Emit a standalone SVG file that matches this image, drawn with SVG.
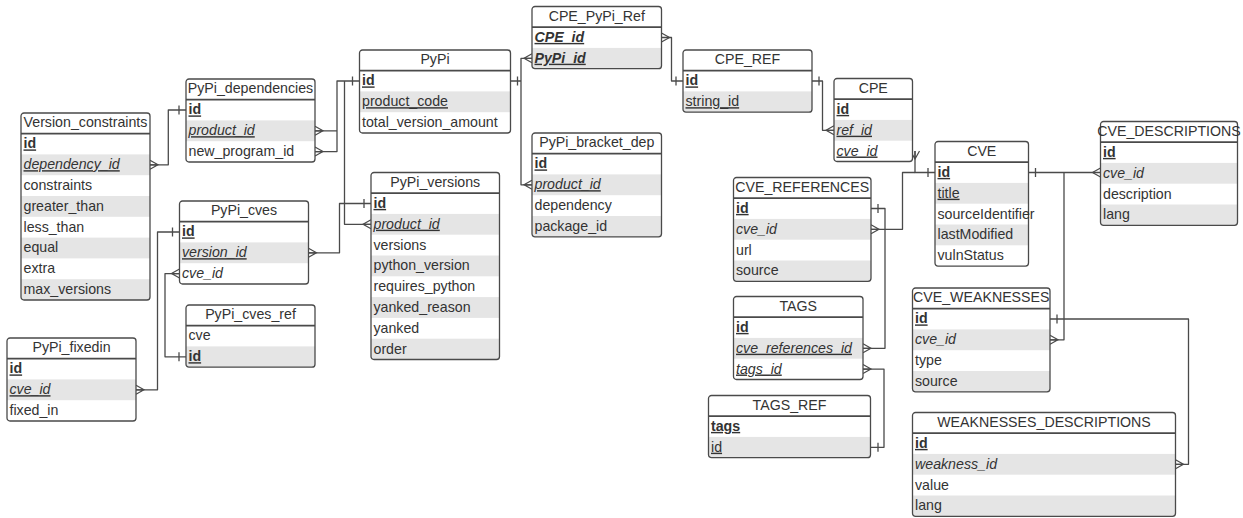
<svg xmlns="http://www.w3.org/2000/svg" xmlns:xlink="http://www.w3.org/1999/xlink" width="1243" height="518" viewBox="0 0 1243 518">
<style>
.bg{fill:#ffffff}
.alt{fill:#e5e5e5}
.frame{fill:none;stroke:#4a4a4a;stroke-width:1.3}
.hd{stroke:#4a4a4a;stroke-width:1.6}
text{font-family:"Liberation Sans",Arial,sans-serif;font-size:14.2px;fill:#333333}
.t{text-anchor:middle}
.b{font-weight:bold;text-decoration:underline}
.i{font-style:italic;text-decoration:underline}
.it{font-style:italic}
.u{text-decoration:underline}
.bi{font-weight:bold;font-style:italic;text-decoration:underline}
.c{fill:none;stroke:#4a4a4a;stroke-width:1.3;stroke-linejoin:round}
</style>
<defs>
<path id="crow" d="M0,-4.5 L8,0 L0,4.5 M0,0 H8" fill="none" stroke="#4a4a4a" stroke-width="1.2"/>
<path id="one" d="M7,-4.5 V4.5" fill="none" stroke="#4a4a4a" stroke-width="1.3"/>
</defs>

<g id="connectors">
<path class="c" d="M150,164.8 H168.3 V110 H186"/>
<use href="#crow" transform="translate(150,164.8)"/>
<use href="#one" transform="translate(186,110) scale(-1,1)"/>

<path class="c" d="M315,130.8 H337 V81 H359.5 M315,151.6 H337 V130.8"/>
<use href="#crow" transform="translate(315,130.8)"/>
<use href="#crow" transform="translate(315,151.6)"/>
<use href="#one" transform="translate(359.5,81) scale(-1,1)"/>

<path class="c" d="M371,224.3 H344.5 V81"/>
<use href="#crow" transform="translate(371,224.3) scale(-1,1)"/>

<path class="c" d="M308.5,252.8 H339.5 V203.5 H371"/>
<use href="#crow" transform="translate(308.5,252.8)"/>
<use href="#one" transform="translate(371,203.5) scale(-1,1)"/>

<path class="c" d="M136,389.8 H157.5 V232 H179.5"/>
<use href="#crow" transform="translate(136,389.8)"/>
<use href="#one" transform="translate(179.5,232) scale(-1,1)"/>

<path class="c" d="M179.5,273.6 H165 V356.8 H186"/>
<use href="#crow" transform="translate(179.5,273.6) scale(-1,1)"/>
<use href="#one" transform="translate(186,356.8) scale(-1,1)"/>

<path class="c" d="M510.5,81 H521 M532,58.3 H521 V184.8 H532"/>
<use href="#one" transform="translate(510.5,81)"/>
<use href="#crow" transform="translate(532,58.3) scale(-1,1)"/>
<use href="#crow" transform="translate(532,184.8) scale(-1,1)"/>

<path class="c" d="M661.5,37.5 H671.5 V81 H683"/>
<use href="#crow" transform="translate(661.5,37.5)"/>
<use href="#one" transform="translate(683,81) scale(-1,1)"/>

<path class="c" d="M812,81 H822.5 V130.3 H834"/>
<use href="#one" transform="translate(812,81)"/>
<use href="#crow" transform="translate(834,130.3) scale(-1,1)"/>

<path class="c" d="M915,151 V172.5 H935"/>
<use href="#crow" transform="translate(915,151) rotate(90)"/>
<use href="#one" transform="translate(935,172.5) scale(-1,1)"/>

<path class="c" d="M871,229.3 H902.5 V172.5 H915"/>
<use href="#crow" transform="translate(871,229.3)"/>

<path class="c" d="M871,208.5 H885 V348.3 H863"/>
<use href="#one" transform="translate(871,208.5)"/>
<use href="#crow" transform="translate(863,348.3)"/>

<path class="c" d="M863,369.1 H884 V447.3 H871"/>
<use href="#crow" transform="translate(863,369.1)"/>
<use href="#one" transform="translate(871,447.3)"/>

<path class="c" d="M1028.5,172.5 H1064 V339.8 H1050 M1064,172.5 H1100.5"/>
<use href="#one" transform="translate(1028.5,172.5)"/>
<use href="#crow" transform="translate(1100.5,172.5) scale(-1,1)"/>
<use href="#crow" transform="translate(1050,339.8)"/>

<path class="c" d="M1050,319 H1188.5 V464.3 H1175.5"/>
<use href="#one" transform="translate(1050,319)"/>
<use href="#crow" transform="translate(1175.5,464.3)"/>
</g>

<g id="Version_constraints" transform="translate(21,113)">
<rect class="bg" width="129" height="187"/>
<rect class="alt" y="41.4" width="129" height="20.8"/>
<rect class="alt" y="83" width="129" height="20.8"/>
<rect class="alt" y="124.6" width="129" height="20.8"/>
<rect class="alt" y="166.2" width="129" height="20.8"/>
<rect class="frame" width="129" height="187" rx="3"/>
<line class="hd" x1="0" y1="20.6" x2="129" y2="20.6"/>
<text class="t" x="64.5" y="14.3">Version_constraints</text>
<text class="b" x="2.5" y="35.4">id</text>
<text class="i" x="2.5" y="56.2">dependency_id</text>
<text x="2.5" y="77">constraints</text>
<text x="2.5" y="97.8">greater_than</text>
<text x="2.5" y="118.6">less_than</text>
<text x="2.5" y="139.4">equal</text>
<text x="2.5" y="160.2">extra</text>
<text x="2.5" y="181">max_versions</text>
</g>

<g id="PyPi_dependencies" transform="translate(186,79)">
<rect class="bg" width="129" height="83"/>
<rect class="alt" y="41.4" width="129" height="20.8"/>
<rect class="frame" width="129" height="83" rx="3"/>
<line class="hd" x1="0" y1="20.6" x2="129" y2="20.6"/>
<text class="t" x="64.5" y="14.3">PyPi_dependencies</text>
<text class="b" x="2.5" y="35.4">id</text>
<text class="i" x="2.5" y="56.2">product_id</text>
<text x="2.5" y="77">new_program_id</text>
</g>

<g id="PyPi_cves" transform="translate(179.5,201)">
<rect class="bg" width="129" height="83"/>
<rect class="alt" y="41.4" width="129" height="20.8"/>
<rect class="frame" width="129" height="83" rx="3"/>
<line class="hd" x1="0" y1="20.6" x2="129" y2="20.6"/>
<text class="t" x="64.5" y="14.3">PyPi_cves</text>
<text class="b" x="2.5" y="35.4">id</text>
<text class="i" x="2.5" y="56.2">version_id</text>
<text class="it" x="2.5" y="77">cve_id</text>
</g>

<g id="PyPi_cves_ref" transform="translate(186,305)">
<rect class="bg" width="129" height="62.2"/>
<rect class="alt" y="41.4" width="129" height="20.8"/>
<rect class="frame" width="129" height="62.2" rx="3"/>
<line class="hd" x1="0" y1="20.6" x2="129" y2="20.6"/>
<text class="t" x="64.5" y="14.3">PyPi_cves_ref</text>
<text x="2.5" y="35.4">cve</text>
<text class="b" x="2.5" y="56.2">id</text>
</g>

<g id="PyPi_fixedin" transform="translate(7,338)">
<rect class="bg" width="129" height="83"/>
<rect class="alt" y="41.4" width="129" height="20.8"/>
<rect class="frame" width="129" height="83" rx="3"/>
<line class="hd" x1="0" y1="20.6" x2="129" y2="20.6"/>
<text class="t" x="64.5" y="14.3">PyPi_fixedin</text>
<text class="b" x="2.5" y="35.4">id</text>
<text class="i" x="2.5" y="56.2">cve_id</text>
<text x="2.5" y="77">fixed_in</text>
</g>

<g id="PyPi" transform="translate(359.5,50)">
<rect class="bg" width="151" height="83"/>
<rect class="alt" y="41.4" width="151" height="20.8"/>
<rect class="frame" width="151" height="83" rx="3"/>
<line class="hd" x1="0" y1="20.6" x2="151" y2="20.6"/>
<text class="t" x="75.5" y="14.3">PyPi</text>
<text class="b" x="2.5" y="35.4">id</text>
<text class="u" x="2.5" y="56.2">product_code</text>
<text x="2.5" y="77">total_version_amount</text>
</g>

<g id="PyPi_versions" transform="translate(371,172.5)">
<rect class="bg" width="128.5" height="187"/>
<rect class="alt" y="41.4" width="128.5" height="20.8"/>
<rect class="alt" y="83" width="128.5" height="20.8"/>
<rect class="alt" y="124.6" width="128.5" height="20.8"/>
<rect class="alt" y="166.2" width="128.5" height="20.8"/>
<rect class="frame" width="128.5" height="187" rx="3"/>
<line class="hd" x1="0" y1="20.6" x2="128.5" y2="20.6"/>
<text class="t" x="64.25" y="14.3">PyPi_versions</text>
<text class="b" x="2.5" y="35.4">id</text>
<text class="i" x="2.5" y="56.2">product_id</text>
<text x="2.5" y="77">versions</text>
<text x="2.5" y="97.8">python_version</text>
<text x="2.5" y="118.6">requires_python</text>
<text x="2.5" y="139.4">yanked_reason</text>
<text x="2.5" y="160.2">yanked</text>
<text x="2.5" y="181">order</text>
</g>

<g id="CPE_PyPi_Ref" transform="translate(532,6.5)">
<rect class="bg" width="129.5" height="62.2"/>
<rect class="alt" y="41.4" width="129.5" height="20.8"/>
<rect class="frame" width="129.5" height="62.2" rx="3"/>
<line class="hd" x1="0" y1="20.6" x2="129.5" y2="20.6"/>
<text class="t" x="64.75" y="14.3">CPE_PyPi_Ref</text>
<text class="bi" x="2.5" y="35.4">CPE_id</text>
<text class="bi" x="2.5" y="56.2">PyPi_id</text>
</g>

<g id="CPE_REF" transform="translate(683,50)">
<rect class="bg" width="129" height="62.2"/>
<rect class="alt" y="41.4" width="129" height="20.8"/>
<rect class="frame" width="129" height="62.2" rx="3"/>
<line class="hd" x1="0" y1="20.6" x2="129" y2="20.6"/>
<text class="t" x="64.5" y="14.3">CPE_REF</text>
<text class="b" x="2.5" y="35.4">id</text>
<text class="u" x="2.5" y="56.2">string_id</text>
</g>

<g id="PyPi_bracket_dep" transform="translate(532,133)">
<rect class="bg" width="129.5" height="103.8"/>
<rect class="alt" y="41.4" width="129.5" height="20.8"/>
<rect class="alt" y="83" width="129.5" height="20.8"/>
<rect class="frame" width="129.5" height="103.8" rx="3"/>
<line class="hd" x1="0" y1="20.6" x2="129.5" y2="20.6"/>
<text class="t" x="64.75" y="14.3">PyPi_bracket_dep</text>
<text class="b" x="2.5" y="35.4">id</text>
<text class="i" x="2.5" y="56.2">product_id</text>
<text x="2.5" y="77">dependency</text>
<text x="2.5" y="97.8">package_id</text>
</g>

<g id="CPE" transform="translate(834,78.5)">
<rect class="bg" width="78.5" height="83"/>
<rect class="alt" y="41.4" width="78.5" height="20.8"/>
<rect class="frame" width="78.5" height="83" rx="3"/>
<line class="hd" x1="0" y1="20.6" x2="78.5" y2="20.6"/>
<text class="t" x="39.25" y="14.3">CPE</text>
<text class="b" x="2.5" y="35.4">id</text>
<text class="i" x="2.5" y="56.2">ref_id</text>
<text class="i" x="2.5" y="77">cve_id</text>
</g>

<g id="CVE" transform="translate(935,141.5)">
<rect class="bg" width="93.5" height="124.6"/>
<rect class="alt" y="41.4" width="93.5" height="20.8"/>
<rect class="alt" y="83" width="93.5" height="20.8"/>
<rect class="frame" width="93.5" height="124.6" rx="3"/>
<line class="hd" x1="0" y1="20.6" x2="93.5" y2="20.6"/>
<text class="t" x="46.75" y="14.3">CVE</text>
<text class="b" x="2.5" y="35.4">id</text>
<text class="u" x="2.5" y="56.2">title</text>
<text x="2.5" y="77">sourceIdentifier</text>
<text x="2.5" y="97.8">lastModified</text>
<text x="2.5" y="118.6">vulnStatus</text>
</g>

<g id="CVE_DESCRIPTIONS" transform="translate(1100.5,121.5)">
<rect class="bg" width="137" height="103.8"/>
<rect class="alt" y="41.4" width="137" height="20.8"/>
<rect class="alt" y="83" width="137" height="20.8"/>
<rect class="frame" width="137" height="103.8" rx="3"/>
<line class="hd" x1="0" y1="20.6" x2="137" y2="20.6"/>
<text class="t" x="68.5" y="14.3">CVE_DESCRIPTIONS</text>
<text class="b" x="2.5" y="35.4">id</text>
<text class="it" x="2.5" y="56.2">cve_id</text>
<text x="2.5" y="77">description</text>
<text x="2.5" y="97.8">lang</text>
</g>

<g id="CVE_REFERENCES" transform="translate(733.5,177.5)">
<rect class="bg" width="137.5" height="103.8"/>
<rect class="alt" y="41.4" width="137.5" height="20.8"/>
<rect class="alt" y="83" width="137.5" height="20.8"/>
<rect class="frame" width="137.5" height="103.8" rx="3"/>
<line class="hd" x1="0" y1="20.6" x2="137.5" y2="20.6"/>
<text class="t" x="68.75" y="14.3">CVE_REFERENCES</text>
<text class="b" x="2.5" y="35.4">id</text>
<text class="it" x="2.5" y="56.2">cve_id</text>
<text x="2.5" y="77">url</text>
<text x="2.5" y="97.8">source</text>
</g>

<g id="TAGS" transform="translate(733.5,296.5)">
<rect class="bg" width="129.5" height="83"/>
<rect class="alt" y="41.4" width="129.5" height="20.8"/>
<rect class="frame" width="129.5" height="83" rx="3"/>
<line class="hd" x1="0" y1="20.6" x2="129.5" y2="20.6"/>
<text class="t" x="64.75" y="14.3">TAGS</text>
<text class="b" x="2.5" y="35.4">id</text>
<text class="i" x="2.5" y="56.2">cve_references_id</text>
<text class="i" x="2.5" y="77">tags_id</text>
</g>

<g id="TAGS_REF" transform="translate(708.5,395.5)">
<rect class="bg" width="162" height="62.2"/>
<rect class="alt" y="41.4" width="162" height="20.8"/>
<rect class="frame" width="162" height="62.2" rx="3"/>
<line class="hd" x1="0" y1="20.6" x2="162" y2="20.6"/>
<text class="t" x="81" y="14.3">TAGS_REF</text>
<text class="b" x="2.5" y="35.4">tags</text>
<text class="u" x="2.5" y="56.2">id</text>
</g>

<g id="CVE_WEAKNESSES" transform="translate(912.5,288)">
<rect class="bg" width="137.5" height="103.8"/>
<rect class="alt" y="41.4" width="137.5" height="20.8"/>
<rect class="alt" y="83" width="137.5" height="20.8"/>
<rect class="frame" width="137.5" height="103.8" rx="3"/>
<line class="hd" x1="0" y1="20.6" x2="137.5" y2="20.6"/>
<text class="t" x="68.75" y="14.3">CVE_WEAKNESSES</text>
<text class="b" x="2.5" y="35.4">id</text>
<text class="it" x="2.5" y="56.2">cve_id</text>
<text x="2.5" y="77">type</text>
<text x="2.5" y="97.8">source</text>
</g>

<g id="WEAKNESSES_DESCRIPTIONS" transform="translate(912.5,412.5)">
<rect class="bg" width="263" height="103.8"/>
<rect class="alt" y="41.4" width="263" height="20.8"/>
<rect class="alt" y="83" width="263" height="20.8"/>
<rect class="frame" width="263" height="103.8" rx="3"/>
<line class="hd" x1="0" y1="20.6" x2="263" y2="20.6"/>
<text class="t" x="131.5" y="14.3">WEAKNESSES_DESCRIPTIONS</text>
<text class="b" x="2.5" y="35.4">id</text>
<text class="it" x="2.5" y="56.2">weakness_id</text>
<text x="2.5" y="77">value</text>
<text x="2.5" y="97.8">lang</text>
</g>
</svg>
